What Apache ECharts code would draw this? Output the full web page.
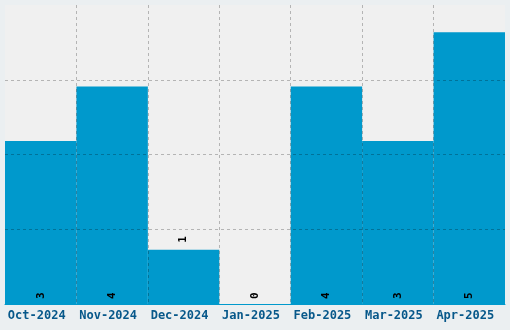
<!DOCTYPE html>
<html><head><meta charset="utf-8">
<script src="https://cdn.jsdelivr.net/npm/echarts@6/dist/echarts.min.js"></script>
<style>html,body{margin:0;padding:0;background:#ebeff1;}#c{width:510px;height:330px;}</style>
</head><body><div id="c"></div>
<script>
var categories = ['Oct-2024','Nov-2024','Dec-2024','Jan-2025','Feb-2025','Mar-2025','Apr-2025'];
var counts = [3, 4, 1, 0, 4, 3, 5];
var outsideLabel = [false, false, true, false, false, false, false];

var chart = echarts.init(document.getElementById('c'), null, {renderer: 'canvas'});
var font = '"DejaVu Sans Mono", monospace';
var gridLine = {show: true, showMinLine: false, showMaxLine: false, lineStyle: {color: 'rgba(0,0,0,0.25)', type: [3, 3], width: 1}};
chart.setOption({
  backgroundColor: '#ebeff1',
  animation: false,
  grid: {left: 5, right: 5, top: 5, bottom: 26, show: true, backgroundColor: '#f0f0f0', borderWidth: 0, containLabel: false},
  xAxis: {
    type: 'category', data: categories, z: 10,
    axisLine: {show: true, lineStyle: {color: '#0099cc', width: 1}},
    axisTick: {show: false},
    splitLine: Object.assign({interval: 0}, gridLine),
    axisLabel: {color: '#07588a', fontFamily: font, fontWeight: 'bold', fontSize: 12, margin: 6, interval: 0, padding: [0, 8, 0, 0]}
  },
  yAxis: {
    type: 'value', min: 0, max: 5.5, interval: 1.375, z: 10,
    axisLine: {show: false}, axisTick: {show: false}, axisLabel: {show: false},
    splitLine: gridLine
  },
  series: [{
    type: 'bar', barCategoryGap: 0,
    itemStyle: {color: '#0099cc'},
    label: {show: true, position: 'insideBottom', rotate: 90, align: 'left', verticalAlign: 'middle', distance: 5, color: '#000', fontFamily: font, fontWeight: 'bold', fontSize: 11},
    data: counts.map(function (v, i) {
      return outsideLabel[i] ? {value: v, label: {position: 'top', distance: 7}} : v;
    })
  }]
});
</script></body></html>
